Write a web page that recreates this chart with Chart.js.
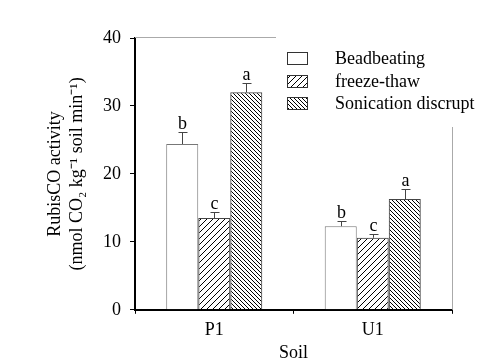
<!DOCTYPE html>
<html>
<head>
<meta charset="utf-8">
<title>RubisCO activity</title>
<script src="https://cdn.jsdelivr.net/npm/chart.js@4.4.0/dist/chart.umd.min.js"></script>
<style>
  html, body { margin: 0; padding: 0; background: #fff; }
  #wrap { width: 480px; height: 364px; }
</style>
</head>
<body>
<div id="wrap"><canvas id="myCanvas" width="480" height="364"></canvas></div>
<script>
// data
var soils = ['P1', 'U1'];
var beadbeating = [24.4, 12.3];
var beadErr = [1.8, 0.7];
var freezeThaw = [13.5, 10.6];
var freezeErr = [0.9, 0.6];
var sonication = [32.0, 16.3];
var sonicErr = [1.4, 1.5];
var beadLetters = ['b', 'b'];
var freezeLetters = ['c', 'c'];
var sonicLetters = ['a', 'a'];
var yTicks = [0, 10, 20, 30, 40];

var serif = "'Liberation Serif', 'Times New Roman', serif";

// hatch fill, forward = '/' lines, otherwise '\'
function hatch(size, forward) {
  var c = document.createElement('canvas');
  c.width = size; c.height = size;
  var g = c.getContext('2d');
  g.strokeStyle = '#000';
  g.lineWidth = 1;
  g.beginPath();
  if (forward) {
    g.moveTo(0, size); g.lineTo(size, 0);
    g.moveTo(-1, 1); g.lineTo(1, -1);
    g.moveTo(size - 1, size + 1); g.lineTo(size + 1, size - 1);
  } else {
    g.moveTo(0, 0); g.lineTo(size, size);
    g.moveTo(-1, size - 1); g.lineTo(1, size + 1);
    g.moveTo(size - 1, -1); g.lineTo(size + 1, 1);
  }
  g.stroke();
  return g.createPattern(c, 'repeat');
}
var fwd = hatch(6, true);
var back = hatch(4, false);

var errs = [beadErr, freezeErr, sonicErr];
var letters = [beadLetters, freezeLetters, sonicLetters];

var errorPlugin = {
  id: 'errors',
  afterDatasetsDraw: function(chart) {
    var ctx = chart.ctx;
    var y = chart.scales.y;
    ctx.save();
    ctx.strokeStyle = '#444';
    ctx.lineWidth = 1;
    ctx.fillStyle = '#000';
    ctx.font = '18px ' + serif;
    ctx.textAlign = 'center';
    ctx.textBaseline = 'alphabetic';
    chart.data.datasets.forEach(function(ds, i) {
      chart.getDatasetMeta(i).data.forEach(function(bar, j) {
        var top = Math.round(y.getPixelForValue(ds.data[j] + errs[i][j])) + 0.5;
        var x = Math.round(bar.x) + 0.5;
        ctx.beginPath();
        ctx.moveTo(x, bar.y);
        ctx.lineTo(x, top);
        ctx.moveTo(x - 4, top);
        ctx.lineTo(x + 5, top);
        ctx.stroke();
        ctx.fillText(letters[i][j], x, top - 4);
      });
    });
    ctx.restore();
  }
};

var framePlugin = {
  id: 'frame',
  beforeDatasetsDraw: function(chart) {
    var a = chart.chartArea, ctx = chart.ctx;
    ctx.save();
    ctx.strokeStyle = '#aaa';
    ctx.lineWidth = 1;
    ctx.beginPath();
    ctx.moveTo(a.left, Math.round(a.top) - 0.5);
    ctx.lineTo(Math.round(a.right) + 0.5, Math.round(a.top) - 0.5);
    ctx.lineTo(Math.round(a.right) + 0.5, a.bottom);
    ctx.stroke();
    ctx.restore();
  },
  afterDraw: function(chart) {
    var ctx = chart.ctx;
    ctx.save();
    ctx.fillStyle = '#fff';
    ctx.fillRect(276, 30, 204, 97);
    ctx.font = '18px ' + serif;
    ctx.textBaseline = 'middle';
    chart.data.datasets.forEach(function(ds, i) {
      var cy = Math.round(58 + i * 22.5);
      ctx.fillStyle = ds.backgroundColor;
      ctx.fillRect(287, cy - 6, 21, 13);
      ctx.strokeStyle = '#333';
      ctx.lineWidth = 1;
      ctx.strokeRect(287.5, cy - 5.5, 20, 12);
      ctx.fillStyle = '#000';
      ctx.fillText(ds.label, 335, cy + 1);
    });
    ctx.restore();
  }
};

new Chart(document.getElementById('myCanvas'), {
  type: 'bar',
  data: {
    labels: soils,
    datasets: [
      { label: 'Beadbeating', data: beadbeating, backgroundColor: '#fff', borderColor: '#777', borderWidth: 1 },
      { label: 'freeze-thaw', data: freezeThaw, backgroundColor: fwd, borderColor: '#444', borderWidth: 1 },
      { label: 'Sonication discrupt', data: sonication, backgroundColor: back, borderColor: '#444', borderWidth: 1 }
    ]
  },
  options: {
    responsive: false,
    animation: false,
    devicePixelRatio: 1,
    layout: { padding: { top: 38, right: 28, left: 44, bottom: 0 } },
    plugins: { legend: { display: false }, tooltip: { enabled: false } },
    datasets: { bar: { categoryPercentage: 0.606, barPercentage: 1 } },
    scales: {
      x: {
        grid: { drawOnChartArea: false, drawTicks: true, tickLength: 4, color: '#000' },
        border: { color: '#000', width: 2 },
        ticks: { color: '#000', font: { family: serif, size: 18 }, padding: 6 },
        title: { display: true, text: 'Soil', color: '#000', font: { family: serif, size: 18 }, padding: { top: -5, bottom: 0 } }
      },
      y: {
        min: 0, max: 40,
        afterBuildTicks: function(s) { s.ticks = yTicks.map(function(v) { return { value: v }; }); },
        grid: { drawOnChartArea: false, drawTicks: true, tickLength: 5, color: '#000' },
        border: { color: '#000', width: 2 },
        ticks: { color: '#000', font: { family: serif, size: 18 }, padding: 9 },
        title: {
          display: true,
          text: ['RubisCO activity', '(nmol CO\u2082 kg\u207B\u00B9 soil min\u207B\u00B9)'],
          color: '#000', font: { family: serif, size: 18, lineHeight: 1.25 }, padding: { top: 0, bottom: 5 }
        }
      }
    }
  },
  plugins: [framePlugin, errorPlugin]
});
</script>
</body>
</html>
